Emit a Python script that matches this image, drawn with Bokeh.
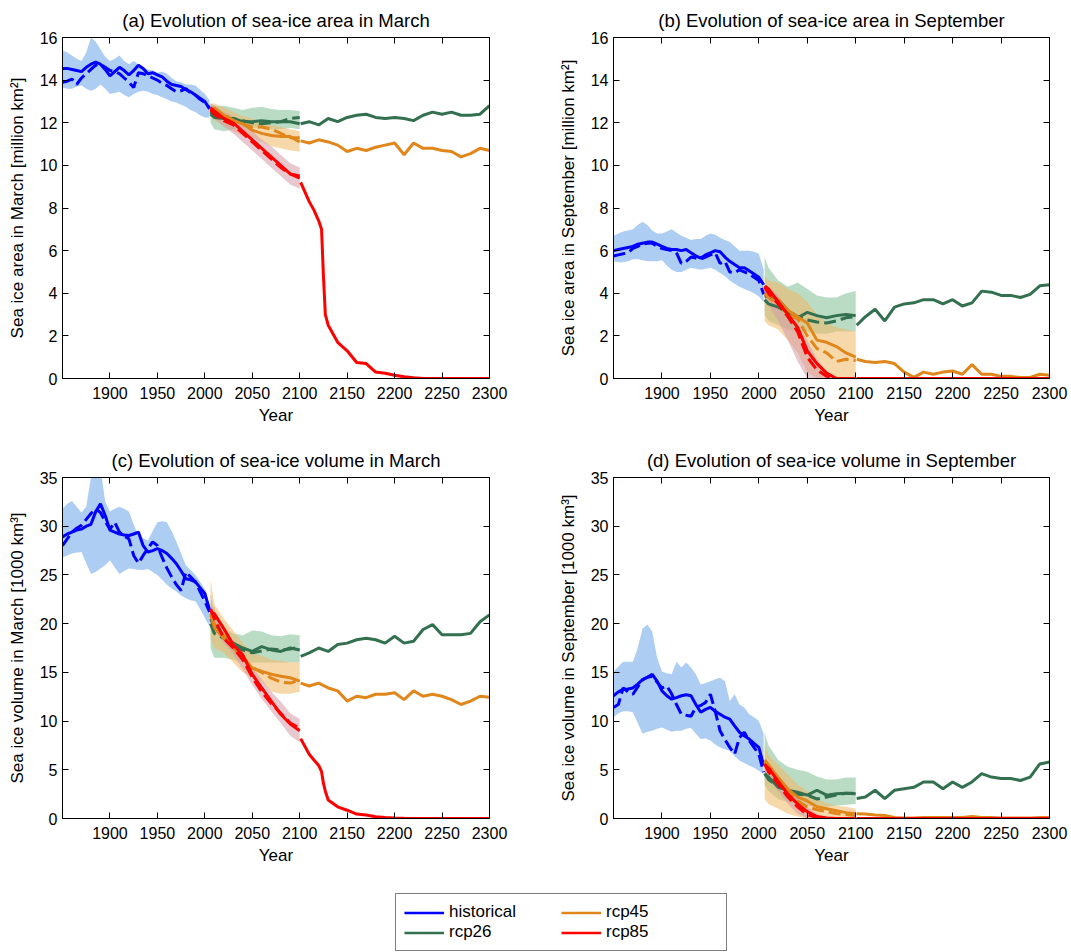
from bokeh.plotting import figure
from bokeh.layouts import column, row
from bokeh.models import FixedTicker, LinearAxis, Legend, LegendItem, Range1d
from bokeh.embed import file_html
from bokeh.resources import INLINE

# ---------------- data ----------------
hist_years = [1850, 1855, 1860, 1865, 1870, 1875, 1880, 1885, 1890, 1895, 1900, 1905, 1910, 1915, 1920, 1925,
              1930, 1935, 1940, 1945, 1950, 1955, 1960, 1965, 1970, 1975, 1980, 1985, 1990, 1995, 2000, 2005]
scen_years = [2006, 2010, 2020, 2030, 2040, 2050, 2060, 2070, 2080, 2090, 2100]
ext_years = [2101, 2110, 2120, 2130, 2140, 2150, 2160, 2170, 2180, 2190, 2200, 2210, 2220, 2230, 2240, 2250,
             2260, 2270, 2280, 2290, 2300]
red_ext_years = [2101, 2110, 2115, 2120, 2123, 2125, 2127, 2130, 2140, 2150, 2160, 2170, 2180, 2190, 2200,
                 2210, 2220, 2230, 2250, 2300]

x_ticks = [1900, 1950, 2000, 2050, 2100, 2150, 2200, 2250, 2300]
area_ticks = [0, 2, 4, 6, 8, 10, 12, 14, 16]
vol_ticks = [0, 5, 10, 15, 20, 25, 30, 35]

series_names = ["historical", "rcp26", "rcp45", "rcp85"]

# (a) sea-ice area, March
hist_a = [14.55, 14.55, 14.5, 14.45, 14.4, 14.6, 14.75, 14.85, 14.75, 14.5, 14.2, 14.4, 14.6, 14.45, 14.25, 14.45,
          14.7, 14.55, 14.3, 14.35, 14.25, 14.15, 13.95, 13.8, 13.75, 13.7, 13.55, 13.45, 13.3, 13.15, 13.0, 12.65]
hist_a_dash = [13.9, 13.95, 14.05, 13.8, 14.1, 14.3, 14.5, 14.7, 14.75, 14.6, 14.45, 14.4, 14.3, 14.1, 13.9, 13.65,
               14.35, 14.3, 14.2, 14.1, 14.0, 13.85, 13.75, 13.6, 13.45, 13.5, 13.6, 13.4, 13.3, 13.1, 12.95, 12.7]
hist_a_hi = [15.4, 15.3, 15.15, 15.0, 14.9, 15.3, 16.0, 15.8, 15.45, 15.1, 14.9, 15.0, 15.15, 14.9, 14.75, 14.9,
             14.75, 14.6, 14.5, 14.45, 14.35, 14.4, 14.3, 14.1, 13.95, 13.9, 13.8, 13.8, 13.75, 13.55, 13.35, 13.05]
hist_a_lo = [13.65, 13.6, 13.6, 13.7, 13.75, 13.6, 13.5, 13.6, 13.8, 13.6, 13.35, 13.4, 13.45, 13.3, 13.2, 13.35,
             13.45, 13.5, 13.45, 13.35, 13.3, 13.2, 13.1, 13.0, 12.95, 12.85, 12.75, 12.6, 12.5, 12.35, 12.25, 12.25]
r26_a = [12.4, 12.25, 12.2, 12.2, 12.05, 12.05, 12.1, 12.05, 12.05, 12.05, 11.95]
r26_a_dash = [12.5, 12.3, 12.2, 12.2, 12.1, 12.0, 11.95, 12.0, 12.05, 12.2, 12.25]
r26_a_hi = [12.9, 12.8, 12.8, 12.7, 12.6, 12.7, 12.75, 12.65, 12.6, 12.6, 12.55]
r26_a_lo = [12.0, 11.7, 11.6, 11.7, 11.8, 11.75, 11.8, 11.7, 11.7, 11.75, 11.7]
r45_a = [12.6, 12.7, 12.35, 12.1, 11.95, 11.65, 11.5, 11.4, 11.35, 11.35, 11.1]
r45_a_dash = [12.6, 12.5, 12.4, 12.1, 11.95, 11.8, 11.8, 11.7, 11.5, 11.3, 11.3]
r45_a_hi = [12.9, 12.9, 12.7, 12.5, 12.3, 12.2, 12.0, 11.9, 11.8, 11.7, 11.6]
r45_a_lo = [12.3, 12.1, 11.9, 11.6, 11.4, 11.3, 11.1, 10.9, 10.8, 10.7, 10.65]
r85_a = [12.7, 12.55, 12.2, 12.0, 11.6, 11.2, 10.8, 10.4, 10.0, 9.6, 9.4]
r85_a_dash = [12.6, 12.4, 12.1, 11.9, 11.5, 11.1, 10.7, 10.3, 9.9, 9.6, 9.5]
r85_a_hi = [12.9, 12.8, 12.5, 12.3, 11.9, 11.6, 11.2, 10.9, 10.5, 10.1, 9.9]
r85_a_lo = [12.4, 12.2, 11.8, 11.5, 11.1, 10.7, 10.3, 9.9, 9.5, 9.1, 8.9]
r26_a_ext = [11.95, 12.05, 11.9, 12.2, 12.05, 12.25, 12.35, 12.4, 12.25, 12.2, 12.25, 12.2, 12.1, 12.35, 12.5,
             12.4, 12.5, 12.35, 12.35, 12.4, 12.8]
r45_a_ext = [11.15, 11.05, 11.2, 11.1, 10.95, 10.65, 10.8, 10.7, 10.85, 10.95, 11.05, 10.5, 11.05, 10.8, 10.8,
             10.7, 10.65, 10.4, 10.55, 10.8, 10.7]
r85_a_ext = [9.2, 8.3, 7.9, 7.4, 7.0, 4.8, 3.0, 2.5, 1.7, 1.3, 0.75, 0.7, 0.3, 0.25, 0.15, 0.08, 0.03, 0.0, 0.0, 0.0]

# (b) sea-ice area, September
hist_b = [6.0, 6.05, 6.1, 6.15, 6.2, 6.3, 6.35, 6.4, 6.4, 6.3, 6.2, 6.1, 6.05, 6.05, 6.0, 6.05,
          5.9, 5.75, 5.65, 5.8, 5.9, 6.0, 5.95, 5.7, 5.5, 5.35, 5.2, 5.2, 5.05, 4.9, 4.75, 4.4]
hist_b_dash = [5.75, 5.8, 5.85, 5.9, 6.1, 6.2, 6.3, 6.35, 6.35, 6.2, 6.1, 6.05, 6.0, 5.9, 5.4, 5.5,
               5.7, 5.65, 5.6, 5.7, 5.8, 5.9, 5.4, 5.5, 5.0, 4.95, 5.1, 5.0, 4.9, 4.75, 4.6, 3.95]
hist_b_hi = [6.7, 6.8, 6.9, 6.95, 7.0, 7.2, 7.35, 7.2, 6.95, 6.8, 6.8, 6.9, 7.0, 6.85, 6.7, 6.6,
             6.5, 6.55, 6.55, 6.7, 6.8, 6.75, 6.6, 6.5, 6.4, 6.2, 6.0, 6.0, 6.0, 5.95, 5.85, 5.1]
hist_b_lo = [5.5, 5.45, 5.45, 5.5, 5.6, 5.6, 5.55, 5.5, 5.5, 5.5, 5.55, 5.3, 5.1, 5.0, 5.0, 5.1,
             5.2, 5.15, 5.1, 5.15, 5.2, 5.1, 4.95, 4.8, 4.6, 4.45, 4.3, 4.2, 4.1, 4.0, 3.85, 3.6]
r26_b = [3.7, 3.5, 3.35, 3.1, 2.85, 3.1, 2.95, 2.85, 2.95, 3.0, 2.95]
r26_b_dash = [3.85, 3.9, 3.7, 3.2, 2.9, 2.75, 2.65, 2.6, 2.7, 2.85, 2.9]
r26_b_hi = [5.7, 5.2, 4.6, 4.3, 4.5, 4.2, 3.9, 3.8, 3.8, 4.0, 4.1]
r26_b_lo = [3.0, 2.7, 2.5, 2.3, 2.2, 2.2, 2.1, 2.1, 2.2, 2.2, 2.2]
r45_b = [4.2, 4.0, 3.7, 3.2, 2.9, 2.6, 1.8, 1.7, 1.5, 1.2, 1.0]
r45_b_dash = [4.0, 3.8, 3.5, 3.0, 2.8, 2.0, 1.4, 1.2, 0.8, 0.9, 0.85]
r45_b_hi = [4.8, 4.6, 4.5, 4.2, 4.0, 3.6, 3.0, 2.6, 2.4, 2.3, 2.2]
r45_b_lo = [2.7, 2.5, 2.3, 1.8, 1.2, 0.3, 0.0, 0.0, 0.0, 0.0, 0.0]
r85_b = [4.35, 4.2, 3.6, 3.0, 2.4, 1.3, 0.7, 0.25, 0.0, 0.0, 0.0]
r85_b_dash = [4.3, 4.0, 3.5, 2.9, 2.2, 1.0, 0.4, 0.1, 0.0, 0.0, 0.0]
r85_b_hi = [4.4, 4.3, 3.9, 3.3, 2.6, 1.8, 0.9, 0.3, 0.0, 0.0, 0.0]
r85_b_lo = [3.8, 3.4, 2.7, 1.8, 0.8, 0.0, 0.0, 0.0, 0.0, 0.0, 0.0]
r26_b_ext = [2.5, 2.9, 3.25, 2.7, 3.35, 3.5, 3.55, 3.7, 3.7, 3.5, 3.7, 3.4, 3.55, 4.1, 4.05, 3.9, 3.9, 3.8,
             3.95, 4.35, 4.4]
r45_b_ext = [0.9, 0.8, 0.75, 0.8, 0.7, 0.3, 0.05, 0.3, 0.2, 0.3, 0.35, 0.2, 0.65, 0.2, 0.2, 0.1, 0.1, 0.05,
             0.05, 0.2, 0.15]
r85_b_ext = [0.0, 0.0, 0.0, 0.0, 0.0, 0.0, 0.0, 0.0, 0.0, 0.0, 0.0, 0.0, 0.0, 0.0, 0.0, 0.0, 0.0, 0.0, 0.0, 0.0]

# (c) sea-ice volume, March
hist_c = [28.9, 29.2, 29.4, 29.6, 29.7, 30.0, 30.2, 31.5, 32.3, 31.1, 29.6, 29.4, 29.2, 29.1, 29.05, 29.2,
          29.4, 28.0, 27.35, 27.5, 27.7, 27.5, 27.2, 26.7, 26.15, 25.4, 24.6, 24.5, 24.3, 23.7, 23.1, 21.4]
hist_c_dash = [28.0, 28.7, 29.4, 29.8, 30.1, 30.7, 31.3, 31.8, 31.4, 30.5, 29.7, 30.4, 29.4, 29.0, 28.7, 27.0,
               26.2, 27.0, 27.7, 28.4, 28.0, 26.8, 25.7, 24.8, 24.0, 23.4, 25.3, 24.8, 24.3, 23.3, 22.3, 21.2]
hist_c_hi = [31.8, 32.3, 32.6, 32.0, 31.4, 32.0, 35.0, 37.0, 36.0, 32.5, 31.5, 31.8, 32.0, 31.8, 31.5, 30.2,
             29.0, 28.8, 28.5, 29.5, 30.4, 30.5, 30.4, 29.5, 28.4, 27.2, 26.0, 25.5, 25.0, 24.3, 23.5, 22.0]
hist_c_lo = [26.8, 27.0, 27.2, 27.3, 27.35, 26.2, 25.1, 25.3, 25.65, 26.0, 26.5, 25.8, 25.1, 25.4, 25.65, 25.6,
             25.5, 25.5, 25.6, 25.3, 25.0, 24.5, 24.0, 23.6, 23.3, 22.9, 22.6, 22.4, 22.3, 21.5, 20.6, 19.7]
r26_c = [20.5, 19.7, 18.7, 18.0, 17.5, 17.15, 17.65, 17.3, 17.15, 17.5, 17.3]
r26_c_dash = [20.0, 19.0, 18.5, 17.8, 17.3, 17.0, 17.2, 17.4, 17.3, 17.4, 17.6]
r26_c_hi = [23.0, 21.5, 19.5, 19.0, 18.8, 19.3, 19.2, 18.8, 18.7, 18.9, 18.8]
r26_c_lo = [17.5, 16.5, 16.5, 16.3, 16.0, 16.0, 16.0, 16.0, 16.0, 16.0, 16.0]
r45_c = [21.0, 19.6, 18.5, 17.85, 16.5, 15.45, 15.1, 14.8, 14.6, 14.45, 14.1]
r45_c_dash = [20.8, 20.0, 18.8, 17.5, 16.5, 15.5, 15.0, 14.4, 14.0, 13.9, 14.2]
r45_c_hi = [24.5, 22.0, 20.5, 19.3, 18.0, 17.0, 16.7, 16.3, 16.2, 16.0, 16.0]
r45_c_lo = [18.5, 17.5, 17.0, 16.0, 15.0, 14.5, 14.0, 13.0, 12.8, 12.8, 13.0]
r85_c = [21.2, 21.0, 19.5, 17.8, 16.8, 14.8, 13.4, 12.05, 10.7, 9.7, 9.0]
r85_c_dash = [21.5, 20.5, 18.5, 17.5, 16.3, 14.5, 13.0, 11.8, 10.8, 9.8, 9.3]
r85_c_hi = [22.0, 21.5, 19.5, 18.3, 17.0, 15.5, 14.3, 13.0, 12.0, 10.8, 10.2]
r85_c_lo = [20.0, 19.5, 18.0, 16.8, 15.3, 13.7, 12.3, 11.0, 9.8, 8.5, 7.8]
r26_c_ext = [16.65, 17.0, 17.5, 17.15, 17.85, 18.0, 18.35, 18.5, 18.35, 18.0, 18.7, 18.0, 18.2, 19.4, 19.9,
             18.85, 18.85, 18.85, 19.0, 20.2, 20.9]
r45_c_ext = [13.9, 13.6, 13.9, 13.4, 13.1, 12.05, 12.55, 12.4, 12.75, 12.75, 12.9, 12.2, 13.1, 12.55, 12.75,
             12.55, 12.2, 11.7, 12.05, 12.55, 12.45]
r85_c_ext = [8.2, 6.6, 6.0, 5.45, 4.8, 3.6, 2.8, 1.9, 1.2, 0.85, 0.45, 0.35, 0.17, 0.1, 0.05, 0.02, 0.0, 0.0,
             0.0, 0.0]

# (d) sea-ice volume, September
hist_d = [12.6, 13.0, 13.25, 13.3, 13.4, 13.8, 14.25, 14.5, 14.8, 14.1, 13.1, 12.6, 12.25, 12.4, 12.6, 12.7,
          12.6, 11.7, 10.9, 11.2, 11.4, 11.0, 10.7, 10.4, 10.2, 9.5, 8.85, 8.5, 8.15, 7.7, 7.3, 5.45]
hist_d_dash = [11.4, 11.7, 13.4, 13.0, 12.75, 13.5, 14.25, 14.5, 14.6, 14.0, 13.4, 13.6, 12.8, 11.7, 10.7, 10.6,
               10.5, 11.4, 11.6, 11.9, 12.75, 11.0, 9.0, 8.1, 7.3, 6.6, 8.3, 8.85, 8.0, 7.3, 6.6, 4.75]
hist_d_hi = [15.1, 15.6, 16.1, 16.1, 16.1, 17.5, 19.5, 19.9, 19.2, 16.5, 15.1, 14.9, 14.8, 16.1, 15.5, 16.0,
             15.5, 14.8, 13.75, 13.9, 14.1, 14.3, 14.45, 14.1, 12.05, 12.75, 11.7, 11.4, 10.7, 10.4, 10.0, 8.7]
hist_d_lo = [10.4, 10.8, 11.0, 11.0, 10.9, 9.8, 8.7, 8.9, 9.0, 9.2, 9.35, 9.1, 8.9, 9.0, 9.0, 9.2,
             9.3, 8.7, 8.15, 8.2, 8.0, 7.6, 7.3, 7.1, 6.95, 6.4, 5.95, 5.7, 5.45, 5.2, 4.9, 4.6]
r26_d = [4.6, 4.25, 3.2, 2.9, 2.7, 2.4, 2.9, 2.4, 2.55, 2.6, 2.55]
r26_d_dash = [4.6, 4.0, 3.3, 3.0, 2.5, 2.4, 2.0, 2.2, 2.4, 2.6, 2.6]
r26_d_hi = [8.8, 7.5, 6.0, 5.3, 5.0, 4.8, 4.3, 4.0, 4.0, 4.2, 4.2]
r26_d_lo = [3.5, 2.8, 2.0, 1.7, 1.5, 1.3, 1.2, 1.2, 1.3, 1.4, 1.5]
r45_d = [6.0, 5.5, 4.2, 3.0, 2.2, 1.8, 1.2, 1.0, 0.8, 0.6, 0.5]
r45_d_dash = [5.8, 5.0, 3.8, 2.6, 1.8, 1.2, 0.9, 0.7, 0.5, 0.4, 0.3]
r45_d_hi = [7.5, 6.5, 5.5, 4.5, 3.5, 2.8, 2.0, 1.6, 1.3, 1.2, 1.0]
r45_d_lo = [2.0, 1.5, 1.0, 0.5, 0.2, 0.0, 0.0, 0.0, 0.0, 0.0, 0.0]
r85_d = [5.5, 5.2, 3.8, 2.5, 1.5, 0.7, 0.2, 0.05, 0.0, 0.0, 0.0]
r85_d_dash = [5.6, 4.8, 3.5, 2.2, 1.2, 0.4, 0.1, 0.0, 0.0, 0.0, 0.0]
r85_d_hi = [6.0, 5.6, 4.5, 3.2, 2.2, 1.2, 0.5, 0.1, 0.0, 0.0, 0.0]
r85_d_lo = [4.5, 4.0, 2.8, 1.5, 0.5, 0.0, 0.0, 0.0, 0.0, 0.0, 0.0]
r26_d_ext = [2.05, 2.2, 2.9, 2.05, 2.9, 3.05, 3.2, 3.75, 3.75, 3.05, 3.75, 3.2, 3.75, 4.6, 4.25, 4.1, 4.1, 3.9,
             4.25, 5.6, 5.8]
r45_d_ext = [0.5, 0.45, 0.35, 0.3, 0.1, 0.05, 0.05, 0.1, 0.1, 0.1, 0.1, 0.1, 0.2, 0.1, 0.1, 0.05, 0.05, 0.05,
             0.05, 0.1, 0.1]
r85_d_ext = [0.0, 0.0, 0.0, 0.0, 0.0, 0.0, 0.0, 0.0, 0.0, 0.0, 0.0, 0.0, 0.0, 0.0, 0.0, 0.0, 0.0, 0.0, 0.0, 0.0]

# ---------------- styling ----------------
FONT = "Liberation Sans"
LINE = {"historical": "#0000ff", "rcp26": "#33704f", "rcp45": "#e0861a", "rcp85": "#ff0000"}
BAND = {"historical": ("#8ab8ee", 0.7), "rcp26": ("#8cc49d", 0.6),
        "rcp45": ("#f0b866", 0.55), "rcp85": ("#d49aa8", 0.55)}
LW = 3
DASH = "12 5"


def style_axis(ax, ticks, labels=True):
    ax.ticker = FixedTicker(ticks=ticks)
    ax.major_tick_in = 6
    ax.major_tick_out = 0
    ax.minor_tick_in = 0
    ax.minor_tick_out = 0
    ax.axis_line_color = "black"
    ax.major_tick_line_color = "black"
    ax.major_label_text_font = FONT
    if labels:
        ax.major_label_text_font_size = "16px"
        ax.major_label_text_color = "black"
    else:
        # tick marks only (box axes on top / right); labels are not drawn
        ax.major_label_text_font_size = "1px"
        ax.major_label_text_color = None
        ax.major_label_standoff = 0
    ax.axis_label_text_font = FONT
    ax.axis_label_text_font_size = "17px"
    ax.axis_label_text_font_style = "normal"
    ax.axis_label_text_color = "black"


def make_panel(title, ylabel, ymax, yticks, d, width, left, right):
    p = figure(width=width, height=440, x_range=Range1d(1850, 2300), y_range=Range1d(0, ymax),
               output_backend="svg", toolbar_location=None, title=title,
               min_border_left=left, min_border_right=right, min_border_top=35, min_border_bottom=62)
    p.grid.visible = False
    p.outline_line_color = "black"
    p.background_fill_color = "white"
    p.border_fill_color = "white"
    p.title.text_font = FONT
    p.title.text_font_size = "18.5px"
    p.title.text_font_style = "normal"
    p.title.align = "center"
    p.title.text_color = "black"
    p.title.standoff = 14

    # bands
    c, a = BAND["historical"]
    p.varea(x=hist_years, y1=d["hist_lo"], y2=d["hist_hi"], fill_color=c, fill_alpha=a)
    for s in ["rcp26", "rcp45", "rcp85"]:
        c, a = BAND[s]
        p.varea(x=scen_years, y1=d[s + "_lo"], y2=d[s + "_hi"], fill_color=c, fill_alpha=a)

    # lines
    p.line(hist_years, d["hist"], line_color=LINE["historical"], line_width=LW)
    p.line(hist_years, d["hist_dash"], line_color=LINE["historical"], line_width=LW, line_dash=DASH)
    for s in ["rcp26", "rcp45", "rcp85"]:
        p.line(scen_years, d[s + "_dash"], line_color=LINE[s], line_width=LW, line_dash=DASH)
        p.line(scen_years, d[s], line_color=LINE[s], line_width=LW)
        ey = red_ext_years if s == "rcp85" else ext_years
        p.line(ey, d[s + "_ext"], line_color=LINE[s], line_width=LW)

    style_axis(p.xaxis[0], x_ticks)
    p.xaxis[0].axis_label = "Year"
    p.xaxis[0].major_label_standoff = 8
    p.xaxis[0].axis_label_standoff = 4
    style_axis(p.yaxis[0], yticks)
    p.yaxis[0].axis_label = ylabel
    p.yaxis[0].major_label_standoff = 5
    p.yaxis[0].axis_label_standoff = 10

    top = LinearAxis()
    style_axis(top, x_ticks, labels=False)
    p.add_layout(top, "above")
    rgt = LinearAxis()
    style_axis(rgt, yticks, labels=False)
    p.add_layout(rgt, "right")
    return p


def pack(h, hd, hh, hl, g, gd, gh, gl, o, od, oh, ol, r, rd, rh, rl, ge, oe, re):
    return {"hist": h, "hist_dash": hd, "hist_hi": hh, "hist_lo": hl,
            "rcp26": g, "rcp26_dash": gd, "rcp26_hi": gh, "rcp26_lo": gl, "rcp26_ext": ge,
            "rcp45": o, "rcp45_dash": od, "rcp45_hi": oh, "rcp45_lo": ol, "rcp45_ext": oe,
            "rcp85": r, "rcp85_dash": rd, "rcp85_hi": rh, "rcp85_lo": rl, "rcp85_ext": re}


da = pack(hist_a, hist_a_dash, hist_a_hi, hist_a_lo, r26_a, r26_a_dash, r26_a_hi, r26_a_lo,
          r45_a, r45_a_dash, r45_a_hi, r45_a_lo, r85_a, r85_a_dash, r85_a_hi, r85_a_lo,
          r26_a_ext, r45_a_ext, r85_a_ext)
db = pack(hist_b, hist_b_dash, hist_b_hi, hist_b_lo, r26_b, r26_b_dash, r26_b_hi, r26_b_lo,
          r45_b, r45_b_dash, r45_b_hi, r45_b_lo, r85_b, r85_b_dash, r85_b_hi, r85_b_lo,
          r26_b_ext, r45_b_ext, r85_b_ext)
dc = pack(hist_c, hist_c_dash, hist_c_hi, hist_c_lo, r26_c, r26_c_dash, r26_c_hi, r26_c_lo,
          r45_c, r45_c_dash, r45_c_hi, r45_c_lo, r85_c, r85_c_dash, r85_c_hi, r85_c_lo,
          r26_c_ext, r45_c_ext, r85_c_ext)
dd = pack(hist_d, hist_d_dash, hist_d_hi, hist_d_lo, r26_d, r26_d_dash, r26_d_hi, r26_d_lo,
          r45_d, r45_d_dash, r45_d_hi, r45_d_lo, r85_d, r85_d_dash, r85_d_hi, r85_d_lo,
          r26_d_ext, r45_d_ext, r85_d_ext)

pa = make_panel("(a) Evolution of sea-ice area in March", "Sea ice area in March [million km\u00b2]",
                16, area_ticks, da, 540, 62, 51)
pb = make_panel("(b) Evolution of sea-ice area in September", "Sea ice area in September [million km\u00b2]",
                16, area_ticks, db, 531, 73, 22)
pc = make_panel("(c) Evolution of sea-ice volume in March", "Sea ice volume in March [1000 km\u00b3]",
                35, vol_ticks, dc, 540, 62, 51)
pd = make_panel("(d) Evolution of sea-ice volume in September", "Sea ice volume in September [1000 km\u00b3]",
                35, vol_ticks, dd, 531, 73, 22)

# legend strip (its lines lie outside the visible range; only the legend glyphs show)
lf = figure(width=1071, height=72, output_backend="svg", toolbar_location=None,
            x_range=Range1d(0, 1), y_range=Range1d(0, 1), min_border=0,
            x_axis_location=None, y_axis_location=None)
lf.grid.visible = False
lf.outline_line_color = None
items = []
for s in series_names:
    rr = lf.line([-2, -1], [-2, -1], line_color=LINE[s], line_width=2.5)
    items.append(LegendItem(label=s, renderers=[rr]))
leg = Legend(items=items, location=(395, 1), nrows=2, ncols=2, orientation="vertical",
             border_line_color="black", border_line_width=1, background_fill_color="white",
             background_fill_alpha=1, label_text_font=FONT, label_text_font_size="17px",
             label_text_color="black", glyph_width=40, glyph_height=19, label_height=19,
             label_width=112, label_standoff=5, spacing=0, padding=8, margin=0)
lf.add_layout(leg, "center")

layout = column(row(pa, pb), row(pc, pd), lf)

with open("out.html", "w") as f:
    f.write(file_html(layout, INLINE))
